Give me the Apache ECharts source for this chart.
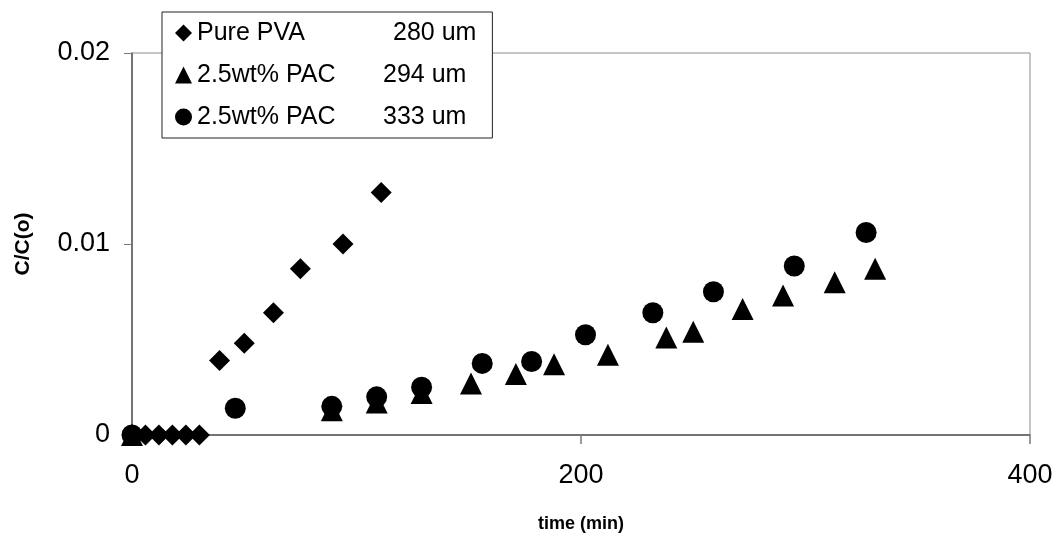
<!DOCTYPE html>
<html>
<head>
<meta charset="utf-8">
<script src="https://cdn.jsdelivr.net/npm/echarts@6/dist/echarts.min.js"></script>
<style>
  html, body { margin: 0; padding: 0; background: #fff; }
  #chart { width: 1059px; height: 540px; }
</style>
</head>
<body>
<div id="chart"></div>
<script>
// Release of solute over time: C/C(o) against time for three membranes
const pvaTime = [0, 6, 12, 18, 24, 30, 39, 50, 63, 75, 94, 111];
const pvaConc = [0, 0, 0, 0, 0, 0, 0.0039, 0.0048, 0.0064, 0.0087, 0.0100, 0.0127];

const pac294Time = [0, 89, 109, 129, 151, 171, 188, 212, 238, 250, 272, 290, 313, 331];
const pac294Conc = [0, 0.0013, 0.0017, 0.0022, 0.0027, 0.0032, 0.0037, 0.0042, 0.0051, 0.0054, 0.0066, 0.0073, 0.0080, 0.0087];

const pac333Time = [0, 46, 89, 109, 129, 156, 178, 202, 232, 259, 295, 327];
const pac333Conc = [0, 0.0014, 0.0015, 0.0020, 0.0025, 0.00375, 0.00385, 0.00525, 0.0064, 0.0075, 0.00885, 0.0106];

const seriesNames = ['Pure PVA', '2.5wt% PAC', '2.5wt% PAC'];
const thicknesses = ['280 um', '294 um', '333 um'];

const xTicks = { min: 0, max: 400, interval: 200 };
const yTicks = { min: 0, max: 0.02, interval: 0.01 };

const FONT = '"Liberation Sans", Arial, sans-serif';

function pairs(xs, ys) {
  return xs.map((x, i) => [x, ys[i]]);
}

const legendKeys = ['pva', 'pac294', 'pac333'];
const legendLabels = {};
legendKeys.forEach((k, i) => { legendLabels[k] = [seriesNames[i], thicknesses[i]]; });

const chart = echarts.init(document.getElementById('chart'), null, { renderer: 'canvas' });

chart.setOption({
  animation: false,
  backgroundColor: '#ffffff',
  grid: {
    left: 132, right: 29, top: 53, bottom: 105,
    containLabel: false, outerBoundsMode: 'none',
    show: true, borderColor: '#8c8c8c', borderWidth: 1, backgroundColor: 'transparent'
  },
  legend: {
    left: 162, top: 12,
    orient: 'vertical',
    data: [
      { name: 'pva', icon: 'diamond' },
      { name: 'pac294', icon: 'triangle' },
      { name: 'pac333', icon: 'circle' }
    ],
    itemWidth: 17, itemHeight: 17, itemGap: 12,
    padding: [6, 16, 6, 13],
    borderColor: '#222', borderWidth: 1,
    backgroundColor: '#fff',
    formatter: function (name) {
      const l = legendLabels[name];
      const first = name === 'pva' ? 'a1' : 'a';
      return '{' + first + '|' + l[0] + '}{b|' + l[1] + '}';
    },
    textStyle: {
      fontFamily: FONT, fontSize: 25, color: '#000', lineHeight: 30,
      rich: {
        a: { fontFamily: FONT, fontSize: 25, color: '#000', width: 186, lineHeight: 30 },
        a1: { fontFamily: FONT, fontSize: 25, color: '#000', width: 196, lineHeight: 30 },
        b: { fontFamily: FONT, fontSize: 25, color: '#000', lineHeight: 30 }
      }
    }
  },
  xAxis: {
    type: 'value',
    min: xTicks.min, max: xTicks.max, interval: xTicks.interval,
    name: 'time (min)', nameLocation: 'middle', nameGap: 80,
    nameTextStyle: { fontFamily: FONT, fontSize: 18, fontWeight: 'bold', color: '#000' },
    axisLine: { show: true, onZero: false, lineStyle: { color: '#595959', width: 1.5 } },
    axisTick: { show: true, inside: false, length: 9, lineStyle: { color: '#7a7a7a', width: 1.5 } },
    axisLabel: { fontFamily: FONT, fontSize: 27, color: '#000', margin: 27 },
    splitLine: { show: false }
  },
  yAxis: {
    type: 'value',
    min: yTicks.min, max: yTicks.max, interval: yTicks.interval,
    name: 'C/C(o)', nameLocation: 'middle', nameGap: 98, nameRotate: 90,
    nameTextStyle: { fontFamily: FONT, fontSize: 21, fontWeight: 'bold', color: '#000' },
    axisLine: { show: true, onZero: false, lineStyle: { color: '#595959', width: 1.5 } },
    axisTick: { show: true, inside: false, length: 8, lineStyle: { color: '#7a7a7a', width: 1 } },
    axisLabel: {
      fontFamily: FONT, fontSize: 27, color: '#000', margin: 22,
      formatter: function (v) { return v === 0 ? '0' : String(+v.toFixed(2)); }
    },
    splitLine: { show: false }
  },
  series: [
    {
      name: 'pva', type: 'scatter', symbol: 'diamond', symbolSize: 21,
      itemStyle: { color: '#000', opacity: 1 },
      data: pairs(pvaTime, pvaConc), z: 3
    },
    {
      name: 'pac294', type: 'scatter', symbol: 'triangle', symbolSize: 22,
      itemStyle: { color: '#000', opacity: 1 },
      data: pairs(pac294Time, pac294Conc), z: 2
    },
    {
      name: 'pac333', type: 'scatter', symbol: 'circle', symbolSize: 21,
      itemStyle: { color: '#000', opacity: 1 },
      data: pairs(pac333Time, pac333Conc), z: 4
    }
  ]
});
</script>
</body>
</html>
